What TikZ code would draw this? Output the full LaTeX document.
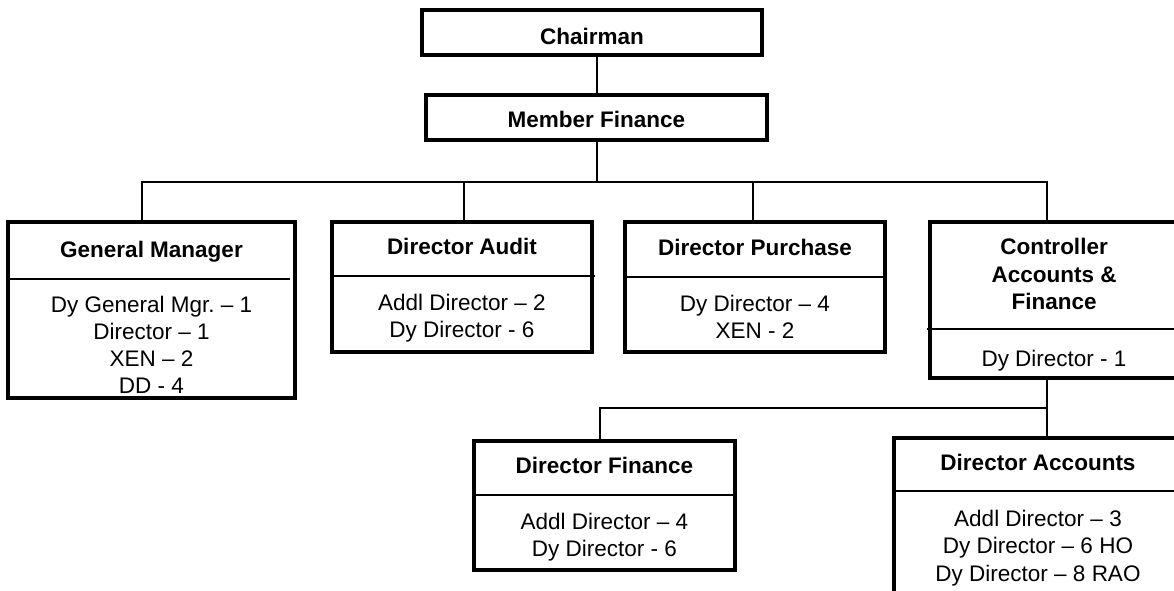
\documentclass[tikz,border=0pt]{standalone}
\usepackage{fontspec}
\setmainfont{Liberation Sans}
\usetikzlibrary{calc}
\frenchspacing
\begin{document}
\begin{tikzpicture}[x=1pt,y=-1pt,
  box/.style={draw, rectangle, line width=3.2pt, inner sep=0pt, outer sep=0pt},
  link/.style={line width=1.3pt},
  divider/.style={line width=1.3pt},
  title/.style={font=\fontsize{22.5}{27.5}\selectfont\bfseries, align=center, inner sep=0pt, anchor=north},
  body/.style={font=\fontsize{22.5}{27.3}\selectfont, align=center, inner sep=0pt, anchor=north}]
\useasboundingbox (0,0) rectangle (1174,591);

% frames
\node[box, minimum width=340pt, minimum height=45pt]  (chair) at (592,32.5) {};
\node[box, minimum width=341pt, minimum height=45pt]  (mf)    at (596.5,117.5) {};
\node[box, minimum width=287pt, minimum height=176pt] (gm)    at (151.5,310) {};
\node[box, minimum width=260pt, minimum height=130pt] (audit) at (462,287) {};
\node[box, minimum width=260pt, minimum height=130pt] (purch) at (755,287) {};
\node[box, minimum width=248pt, minimum height=156pt] (ca)    at (1054,300) {};
\node[box, minimum width=261pt, minimum height=129pt] (fin)   at (604.5,505.5) {};
\node[box, minimum width=288pt, minimum height=162pt] (acc)   at (1038,519) {};

% header/body separators
\draw[divider] ($(gm.north west)+(-2,57)$) -- ($(gm.north east)+(-5,57)$);
\draw[divider] ($(audit.north west)+(0,54)$) -- ($(audit.north east)+(3,54)$);
\draw[divider] ($(purch.north west)+(0,55)$) -- ($(purch.north east)+(0,55)$);
\draw[divider] ($(ca.north west)+(-3,107)$) -- ($(ca.north east)+(0,107)$);
\draw[divider] ($(fin.north west)+(0,54)$) -- ($(fin.north east)+(0,54)$);
\draw[divider] ($(acc.north west)+(0,53)$) -- ($(acc.north east)+(0,53)$);

% titles
\node[title] (chairT) at (592,28.3)   {Chairman};
\node[title] (mfT)    at (596.5,111)  {Member Finance};
\node[title] (gmT)    at (151.5,241)  {General Manager};
\node[title] (auditT) at (462,238)    {Director Audit};
\node[title] (purchT) at (755,239)    {Director Purchase};
\node[title] (caT)    at (1054,238)   {Controller\\Accounts \&\\Finance};
\node[title] (finT)   at (604.5,457)  {Director Finance};
\node[title] (accT)   at (1038,454)   {Director Accounts};

% staff lists
\node[body] (gmB)    at (151.5,295.5) {Dy General Mgr. – 1\\Director – 1\\XEN – 2\\DD - 4};
\node[body] (auditB) at (462,294)     {Addl Director – 2\\Dy Director - 6};
\node[body] (purchB) at (755,295)     {Dy Director – 4\\XEN - 2};
\node[body] (caB)    at (1054,350)    {Dy Director - 1};
\node[body] (finB)   at (604.5,513)   {Addl Director – 4\\Dy Director - 6};
\node[body] (accB)   at (1038,510)    {Addl Director – 3\\Dy Director – 6 HO\\Dy Director – 8 RAO};

% reporting lines
\draw[link] ([xshift=5pt]chair.south) -- ([xshift=0.5pt]mf.north);
\coordinate (bus) at ($(mf.south)+(0.5,42)$);
\draw[link] ([xshift=0.5pt]mf.south) -- (bus);
\draw[link] ([xshift=-9.5pt]gm.north) |- (bus) -| ([xshift=-7pt]ca.north);
\draw[link] ([xshift=2pt]audit.north) -- ([xshift=2pt]audit.north |- bus);
\draw[link] ([xshift=-2pt]purch.north) -- ([xshift=-2pt]purch.north |- bus);
\coordinate (split) at ($([xshift=-7pt]ca.south)+(0,30)$);
\draw[link] ([xshift=-7pt]ca.south) -- ([xshift=9pt]acc.north);
\draw[link] ([xshift=-4.5pt]fin.north) |- (split);
\end{tikzpicture}
\end{document}
